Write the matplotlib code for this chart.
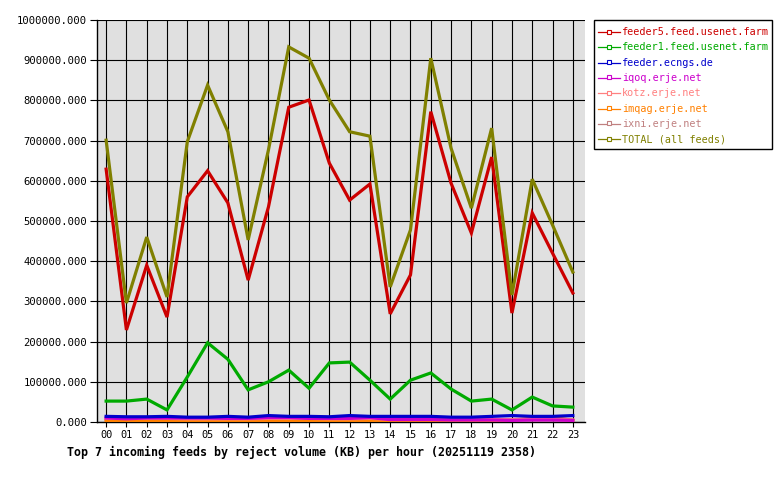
import matplotlib
matplotlib.use("Agg")
import matplotlib.pyplot as plt
from matplotlib.patches import Rectangle
from matplotlib.ticker import FuncFormatter

hours = ["%02d" % h for h in range(24)]
feed_names = ["feeder5.feed.usenet.farm", "feeder1.feed.usenet.farm", "feeder.ecngs.de",
              "iqoq.erje.net", "kotz.erje.net", "imqag.erje.net", "ixni.erje.net",
              "TOTAL (all feeds)"]
feed_colors = ["#cc0000", "#00aa00", "#0000cc", "#cc00cc", "#ff8080", "#ff8000",
               "#c08080", "#808000"]

feeder5 = [629000, 229000, 390000, 261000, 560000, 625000, 545000, 353000, 535000, 783000,
           801000, 644000, 552000, 592000, 269000, 366000, 772000, 594000, 470000, 659000,
           271000, 520000, 420000, 321000]
feeder1 = [52000, 52000, 57000, 30000, 112000, 197000, 156000, 80000, 100000, 129000,
           84000, 147000, 149000, 104000, 57000, 104000, 122000, 82000, 52000, 57000,
           30000, 62000, 40000, 37000]
ecngs = [14000, 13000, 13000, 14000, 12000, 12000, 14000, 12000, 16000, 14000,
         14000, 13000, 16000, 14000, 14000, 14000, 14000, 12000, 12000, 14000,
         16000, 14000, 14000, 16000]
iqoq = [10000, 8000, 10000, 10000, 10000, 10000, 9000, 9000, 11000, 11000,
        9000, 9000, 9000, 11000, 6000, 6000, 6000, 5000, 5000, 5000,
        4000, 5000, 5000, 4000]
kotz = [9000, 9000, 9000, 9000, 8000, 8000, 8000, 8000, 9000, 9000,
        9000, 8000, 8000, 9000, 7000, 7000, 7000, 6000, 6000, 6000,
        6000, 7000, 7000, 5000]
imqag = [3000, 3000, 3000, 3000, 3000, 3000, 3000, 3000, 3000, 3000,
         3000, 3000, 3000, 3000, 3000, 3000, 3000, 3000, 3000, 3000,
         4000, 10000, 12000, 4000]
ixni = [5000, 5000, 5000, 5000, 5000, 5000, 5000, 5000, 5000, 5000,
        5000, 5000, 5000, 5000, 5000, 5000, 5000, 5000, 5000, 5000,
        5000, 5000, 5000, 4000]
total = [701000, 296000, 460000, 311000, 697000, 838000, 722000, 453000, 677000, 933000,
         905000, 801000, 722000, 711000, 336000, 478000, 905000, 681000, 532000, 731000,
         316000, 604000, 490000, 373000]

series = [feeder5, feeder1, ecngs, iqoq, kotz, imqag, ixni, total]
yticks = [i * 100000 for i in range(11)]
title = "Top 7 incoming feeds by reject volume (KB) per hour (20251119 2358)"

mono = ["DejaVu Sans Mono"]

fig = plt.figure(figsize=(7.8, 4.8), dpi=100)
ax = fig.add_axes([97 / 780, 58 / 480, 488 / 780, 402 / 480])
ax.set_facecolor("#e0e0e0")

x = list(range(len(hours)))
for i in [6, 5, 4, 3, 2, 1, 0, 7]:
    ax.plot(x, series[i], color=feed_colors[i], lw=2.3, solid_joinstyle="miter", zorder=3)

ax.set_xlim(-0.45, 23.6)
ax.set_ylim(0, 1000000)
ax.set_xticks(x)
ax.set_xticklabels(hours, fontsize=7.4, family=mono)
ax.set_yticks(yticks)
ax.yaxis.set_major_formatter(FuncFormatter(lambda v, p: "%.3f" % v))
for lab in ax.get_yticklabels():
    lab.set_fontsize(7.6)
    lab.set_family(mono)
ax.tick_params(axis="x", direction="out", length=3.5, width=0.8, color="black", pad=2)
ax.tick_params(axis="y", direction="out", length=5, width=0.8, color="black", pad=2)
ax.grid(True, color="black", lw=0.8, zorder=1)
ax.set_axisbelow(True)
for side in ["top", "right"]:
    ax.spines[side].set_visible(False)
for side in ["left", "bottom"]:
    ax.spines[side].set_linewidth(1.0)

# legend drawn in figure pixel coordinates
lax = fig.add_axes([0, 0, 1, 1], facecolor="none")
lax.set_xlim(0, 780)
lax.set_ylim(480, 0)
lax.axis("off")
lax.add_patch(Rectangle((594, 20), 178, 129, facecolor="white", edgecolor="black", lw=1.0))
for i, (name, col) in enumerate(zip(feed_names, feed_colors)):
    yy = 32 + 15.3 * i
    lax.plot([598, 620], [yy, yy], color=col, lw=0.9)
    lax.plot([609], [yy - 0.5], marker="s", markersize=2.6, markerfacecolor="white",
             markeredgecolor=col, markeredgewidth=0.8)
    lax.text(622, yy, name, color=col, fontsize=7.3, family=mono, va="center", ha="left")

fig.text(67 / 780, 1 - 452 / 480, title, fontsize=8.35, fontweight="bold",
         family=mono, va="center", ha="left")

fig.savefig("out.png", dpi=100)
